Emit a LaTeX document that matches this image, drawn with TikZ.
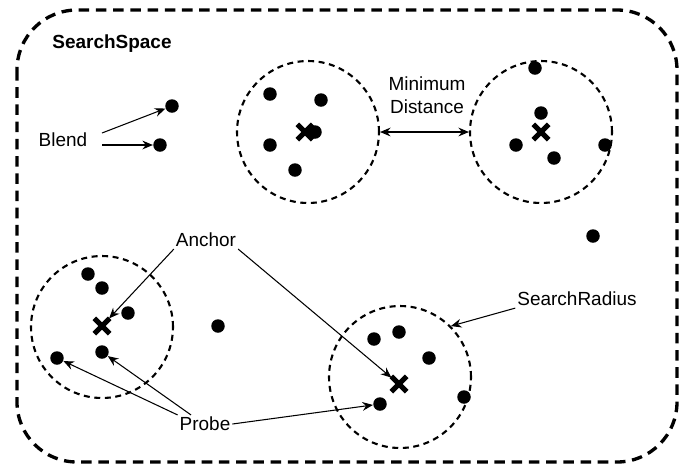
\documentclass[tikz,border=0pt]{standalone}
\usepackage{fontspec}
\setmainfont{Liberation Sans}
\usetikzlibrary{shapes.misc,arrows.meta}

\begin{document}
\begin{tikzpicture}[x=0.02cm,y=-0.02cm,>={Stealth[length=6pt,width=5pt,inset=2pt]}]
\tikzstyle{dot}=[circle,fill,inner sep=0pt,minimum size=0.27cm]
\tikzstyle{anchorx}=[cross out,draw,line width=3pt,inner sep=0pt,minimum size=0.2cm]
\tikzstyle{radius}=[circle,draw,line width=1.2pt,dash pattern=on 3.4pt off 2.6pt,minimum size=2.84cm,inner sep=0pt]
\tikzstyle{label}=[font=\fontsize{10.8}{13}\selectfont,align=center,inner sep=1pt]
\tikzstyle{pointer}=[->,line width=0.6pt]
\useasboundingbox (0,0) rectangle (697,468);
\draw[line width=1.9pt,dash pattern=on 6pt off 3.8pt,rounded corners=1.2cm] (17,10) rectangle (677,462);
\node[label,font=\fontsize{10.8}{13}\selectfont\bfseries] (space) at (112,44) {SearchSpace};
% blend
\node[label] (blend) at (63,140) {Blend};
\node [dot] (b1) at (172,106) {};
\node [dot] (b2) at (160,145) {};
\draw[pointer] (102,133) -- (b1);
\draw[pointer] (102,145) -- (b2);
% top middle region
\node [radius] (c1) at (308,132) {};
\node [dot] (p1) at (270,94) {};
\node [dot] (p2) at (321,100) {};
\node [dot] (p3) at (270,145) {};
\node [dot] (p4) at (295,170) {};
\node [dot] (p5) at (315,132) {};
\node [anchorx] (x1) at (305,132) {};
% top right region
\node [radius] (c2) at (541,132) {};
\node [dot] (q1) at (535,68) {};
\node [dot] (q2) at (541,113) {};
\node [dot] (q3) at (516,145) {};
\node [dot] (q4) at (554,158) {};
\node [dot] (q5) at (605,145) {};
\node [anchorx] (x2) at (541,132) {};
\node[label] (mind) at (427,95) {Minimum\\Distance};
\draw[<->,line width=0.6pt] (c1.east) -- (c2.west);
% free points
\node [dot] (f1) at (593,236) {};
\node [dot] (f2) at (218,326) {};
% bottom left region
\node [radius] (c3) at (102,327) {};
\node [dot] (r1) at (88,274) {};
\node [dot] (r2) at (102,288) {};
\node [dot] (r3) at (128,313) {};
\node [dot] (r4) at (102,352) {};
\node [dot] (r5) at (57,358) {};
\node [anchorx] (x3) at (102,326) {};
% bottom middle region
\node [radius] (c4) at (400,377) {};
\node [dot] (s1) at (374,339) {};
\node [dot] (s2) at (399,332) {};
\node [dot] (s3) at (429,358) {};
\node [dot] (s4) at (380,404) {};
\node [dot] (s5) at (464,397) {};
\node [anchorx] (x4) at (399,384) {};
% labels
\node[label] (anch) at (206,240) {Anchor};
\node[label] (probe) at (205,424) {Probe};
\node[label] (srad) at (577,299) {SearchRadius};
\draw[pointer] (anch.south west) -- (x3);
\draw[pointer] (anch.south east) -- (x4);
\draw[pointer] (probe.north west) -- (r5);
\draw[pointer] (probe.north) ++(-14,0) -- (r4);
\draw[pointer] (probe.east) -- (s4);
\draw[pointer] (srad.south west) -- (c4.north east);
\end{tikzpicture}
\end{document}
